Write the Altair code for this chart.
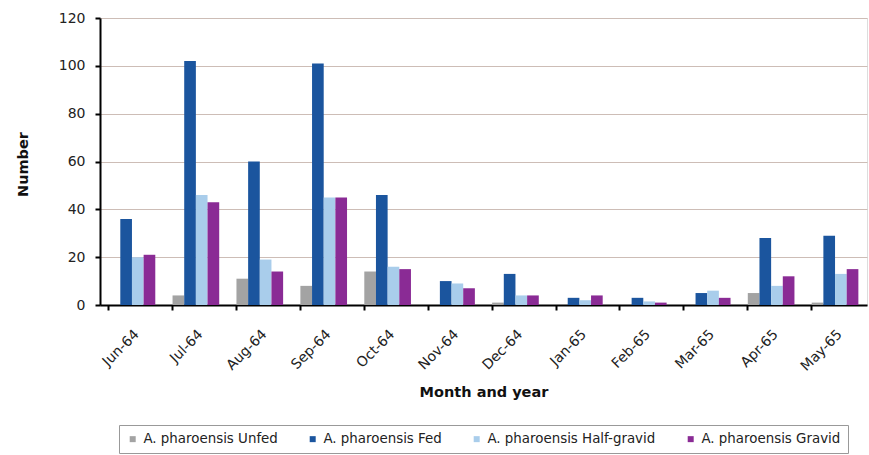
import altair as alt
import pandas as pd

months = ["Jun-64", "Jul-64", "Aug-64", "Sep-64", "Oct-64", "Nov-64",
          "Dec-64", "Jan-65", "Feb-65", "Mar-65", "Apr-65", "May-65"]
series = ["A. pharoensis Unfed", "A. pharoensis Fed",
          "A. pharoensis Half-gravid", "A. pharoensis Gravid"]
unfed = [0, 4, 11, 8, 14, 0, 1, 0, 0, 0, 5, 1]
fed = [36, 102, 60, 101, 46, 10, 13, 3, 3, 5, 28, 29]
half_gravid = [20, 46, 19, 45, 16, 9, 4, 2, 1.5, 6, 8, 13]
gravid = [21, 43, 14, 45, 15, 7, 4, 4, 1, 3, 12, 15]
colors = ["#A3A3A3", "#1B559E", "#A9CDEB", "#8A2B95"]

rows = []
for s, vals in zip(series, [unfed, fed, half_gravid, gravid]):
    for m, v in zip(months, vals):
        rows.append({"Month": m, "Series": s, "Number": v})
df = pd.DataFrame(rows)

font = "DejaVu Sans"

chart = alt.Chart(df).mark_bar().encode(
    x=alt.X("Month:N", sort=months,
            scale=alt.Scale(paddingInner=0.27, paddingOuter=0.135),
            axis=alt.Axis(title="Month and year", labelAngle=-45,
                          labelAlign="right", labelBaseline="top",
                          bandPosition=0, labelPadding=17,
                          tickSize=5, tickWidth=2, tickColor="black",
                          domainColor="black", domainWidth=2,
                          labelFontSize=14, labelFont=font,
                          titleFont=font, titleFontSize=14.5, titleFontWeight="bold",
                          titleY=80, labelColor="#222", titleColor="#111")),
    xOffset=alt.XOffset("Series:N", sort=series),
    y=alt.Y("Number:Q",
            scale=alt.Scale(domain=[0, 120]),
            axis=alt.Axis(title="Number", values=[0, 20, 40, 60, 80, 100, 120],
                          grid=True, gridColor="#CDBDB6", gridWidth=1.2,
                          domainColor="black", domainWidth=2,
                          tickColor="black", tickWidth=2, tickSize=5,
                          labelFontSize=14, labelFont=font, labelPadding=10,
                          titleFont=font, titleFontSize=14.5, titleFontWeight="bold",
                          titleX=-70, titleY=146, titleAngle=-90,
                          labelColor="#222", titleColor="#111")),
    color=alt.Color("Series:N",
                    scale=alt.Scale(domain=series, range=colors),
                    legend=alt.Legend(title=None, orient="none",
                                      legendX=19, legendY=407,
                                      direction="horizontal", columns=4,
                                      symbolType="square", symbolSize=36,
                                      symbolStrokeWidth=0,
                                      labelFont=font, labelFontSize=13.4,
                                      labelLimit=400,
                                      labelColor="#222", columnPadding=28,
                                      labelOffset=4,
                                      padding=7, strokeColor="#999",
                                      fillColor="white")),
).properties(
    width=767, height=287,
    autosize=alt.AutoSizeParams(type="none"),
    padding={"left": 100, "top": 18, "right": 2, "bottom": 150},
).configure_view(stroke=None).configure(background="white")

chart.save("out.html", embed_options={"renderer": "svg", "actions": False})
